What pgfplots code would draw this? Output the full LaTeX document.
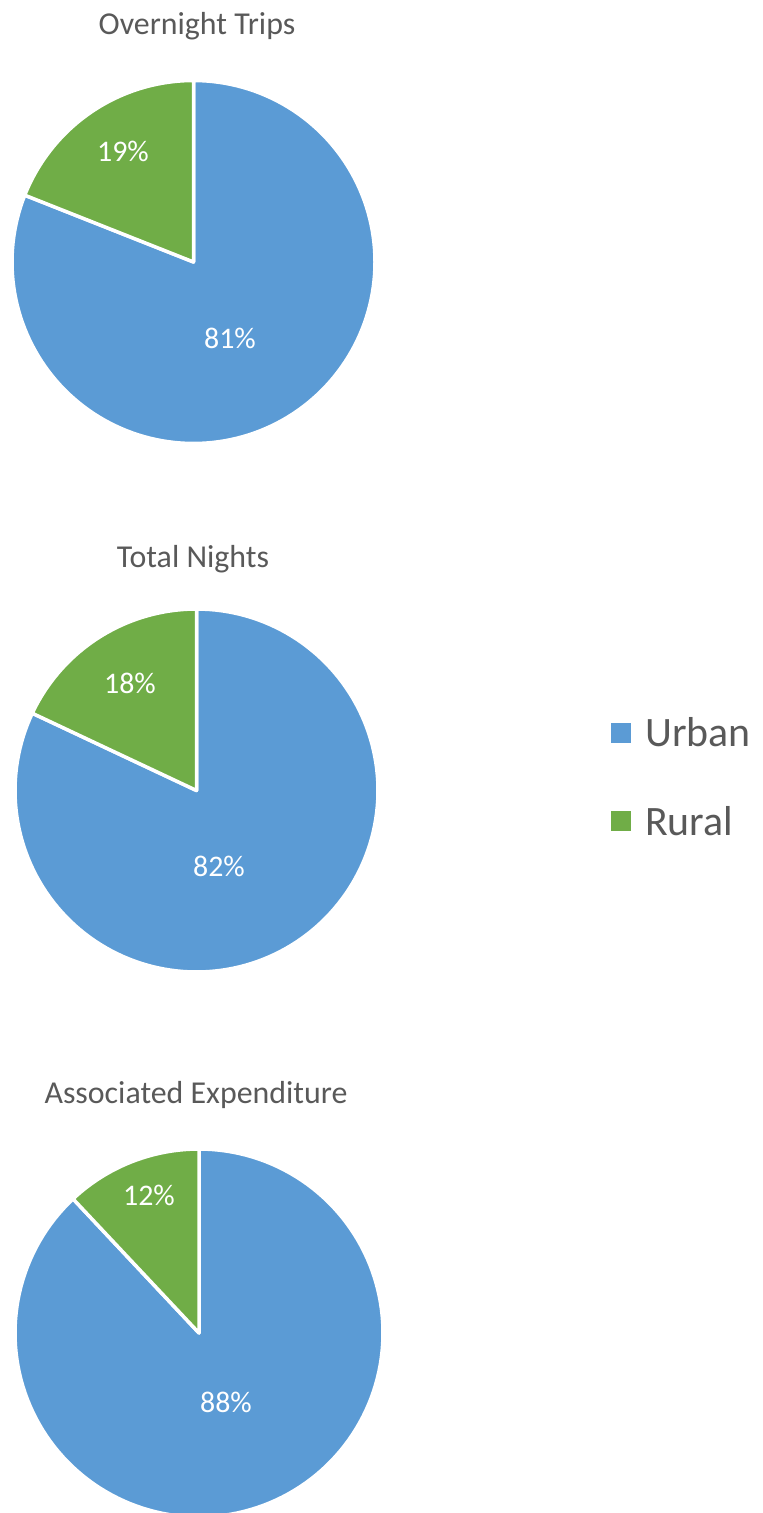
\documentclass[border=0pt]{standalone}
\usepackage{fontspec}
\setmainfont{Carlito}
\usepackage{pgfplots}
\pgfplotsset{compat=1.18}
\definecolor{urban}{HTML}{5B9BD5}
\definecolor{rural}{HTML}{70AD47}
\definecolor{txt}{HTML}{595959}
\begin{document}
\begin{tikzpicture}
\begin{axis}[
  name=ax,
  scale only axis, width=762bp, height=1513bp,
  xmin=0, xmax=762, ymin=0, ymax=1513, y dir=reverse,
  hide axis, clip=true, samples=150,
  legend style={at={(axis cs:611,777)}, anchor=west, draw=none, fill=none,
    font=\fontsize{42}{50}\selectfont, text=txt, row sep=54bp, inner sep=0pt},
  legend cell align=left,
  legend image code/.code={\fill[#1, draw=none] (0bp,-10bp) rectangle (20bp,10bp); \path[draw=none, fill=none] (0bp,0bp) -- (32bp,0bp);},
]
% Pie 1: Overnight Trips (Urban 81, Rural 19)
\addplot[fill=urban, draw=white, line width=3.5bp, line join=round, domain=158.4:450, forget plot]
  ({193.5+181.5*cos(x)},{262-181.5*sin(x)}) -- (axis cs:193.5,262) -- cycle;
\addplot[fill=rural, draw=white, line width=3.5bp, line join=round, domain=90:158.4, forget plot]
  ({193.5+181.5*cos(x)},{262-181.5*sin(x)}) -- (axis cs:193.5,262) -- cycle;
% Pie 2: Total Nights (Urban 82, Rural 18)
\addplot[fill=urban, draw=white, line width=3.5bp, line join=round, domain=154.8:450, forget plot]
  ({196.5+181.5*cos(x)},{790.5-181.5*sin(x)}) -- (axis cs:196.5,790.5) -- cycle;
\addplot[fill=rural, draw=white, line width=3.5bp, line join=round, domain=90:154.8, forget plot]
  ({196.5+181.5*cos(x)},{790.5-181.5*sin(x)}) -- (axis cs:196.5,790.5) -- cycle;
% Pie 3: Associated Expenditure (Urban 88, Rural 12)
\addplot[fill=urban, draw=white, line width=3.5bp, line join=round, domain=133.2:450, forget plot]
  ({199+184*cos(x)},{1333-184*sin(x)}) -- (axis cs:199,1333) -- cycle;
\addplot[fill=rural, draw=white, line width=3.5bp, line join=round, domain=90:133.2, forget plot]
  ({199+184*cos(x)},{1333-184*sin(x)}) -- (axis cs:199,1333) -- cycle;

\addlegendimage{fill=urban}
\addlegendentry{Urban}
\addlegendimage{fill=rural}
\addlegendentry{Rural}

\node[text=txt, font=\fontsize{32}{38}\selectfont] at (axis cs:197,26) {Overnight Trips};
\node[text=txt, font=\fontsize{32}{38}\selectfont] at (axis cs:193,559) {Total Nights};
\node[text=txt, font=\fontsize{32}{38}\selectfont] at (axis cs:196,1095) {Associated Expenditure};

\node[text=white, font=\fontsize{30}{36}\selectfont] at (axis cs:123,151) {19\%};
\node[text=white, font=\fontsize{30}{36}\selectfont] at (axis cs:230,338) {81\%};
\node[text=white, font=\fontsize{30}{36}\selectfont] at (axis cs:130,683) {18\%};
\node[text=white, font=\fontsize{30}{36}\selectfont] at (axis cs:219,866) {82\%};
\node[text=white, font=\fontsize{30}{36}\selectfont] at (axis cs:149,1195) {12\%};
\node[text=white, font=\fontsize{30}{36}\selectfont] at (axis cs:226,1402) {88\%};
\end{axis}
\pgfresetboundingbox
\useasboundingbox (ax.south west) rectangle (ax.north east);
\end{tikzpicture}
\end{document}
